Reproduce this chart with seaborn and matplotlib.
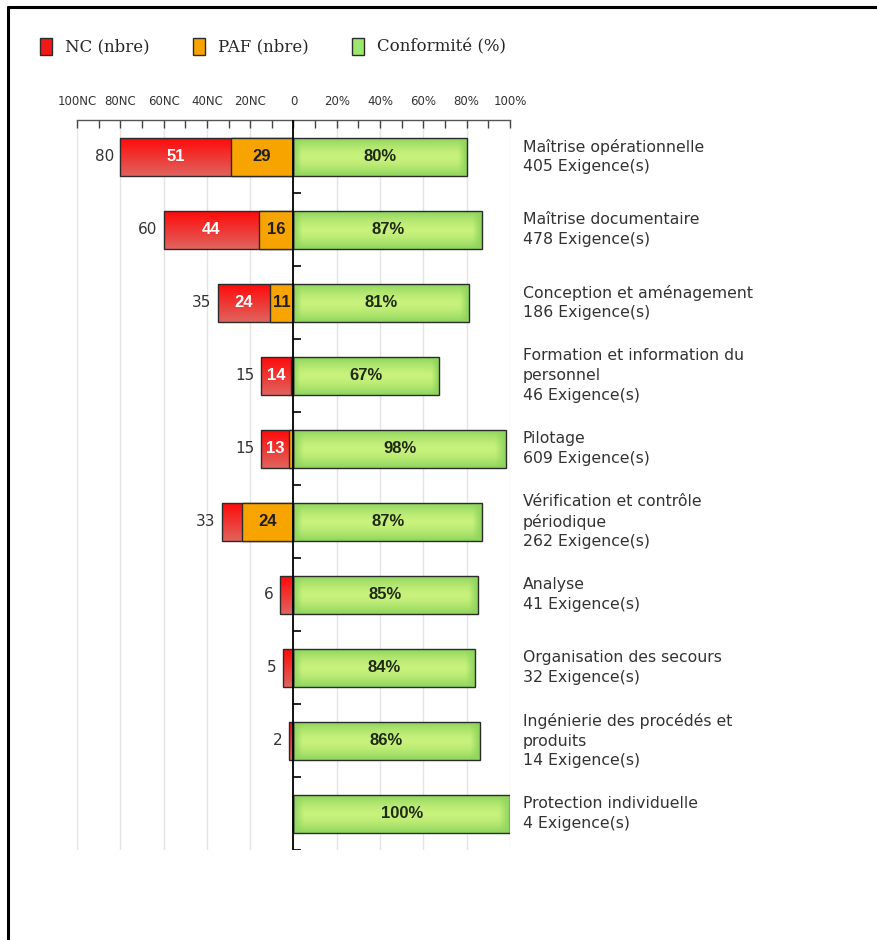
import numpy as np
import matplotlib
matplotlib.use('Agg')
import matplotlib.pyplot as plt
import seaborn as sns
from matplotlib.patches import Patch
from matplotlib.lines import Line2D
from matplotlib.colors import to_rgb

# data
categories = ['Maîtrise opérationnelle', 'Maîtrise documentaire', 'Conception et aménagement',
              'Formation et information du\npersonnel', 'Pilotage',
              'Vérification et contrôle\npériodique', 'Analyse', 'Organisation des secours',
              'Ingénierie des procédés et\nproduits', 'Protection individuelle']
exigences = [405, 478, 186, 46, 609, 262, 41, 32, 14, 4]
nc = [51, 44, 24, 14, 13, 9, 6, 5, 2, 0]
paf = [29, 16, 11, 1, 2, 24, 0, 0, 0, 0]
conformite = [80, 87, 81, 67, 98, 87, 85, 84, 86, 100]
tick_values = [-100, -80, -60, -40, -20, 0, 20, 40, 60, 80, 100]
tick_labels = ['100NC', '80NC', '60NC', '40NC', '20NC', '0', '20%', '40%', '60%', '80%', '100%']
legend_labels = ['NC (nbre)', 'PAF (nbre)', 'Conformité (%)']

RED = '#f01818'
ORANGE = '#f7a400'
GREEN = '#a8e46c'
EDGE = '#2b2b2b'
NARROW = ['Liberation Sans', 'DejaVu Sans']

sns.set_theme(style='white')
plt.rcParams['font.family'] = ['DejaVu Sans']

totals = [a + b for a, b in zip(nc, paf)]
neg_total = [-t for t in totals]
neg_paf = [-p for p in paf]


def red_img():
    t = np.linspace(0, 1, 60)[:, None, None]
    top = np.array(to_rgb('#ff0a0a'))
    bot = np.array(to_rgb('#e0645e'))
    return top * (1 - t) + bot * t


def green_img():
    v = np.linspace(0, 1, 60)[:, None]
    h = np.linspace(0, 1, 300)[None, :]
    fv = 1 - np.abs(2 * v - 1) ** 1.6
    fh = np.clip(np.minimum(h, 1 - h) / 0.05, 0, 1)
    f = (fv * fh)[:, :, None]
    edge = np.array(to_rgb('#8ed45c'))
    mid = np.array(to_rgb('#c8f27c'))
    return edge * (1 - f) + mid * f


def fill_gradient(ax, patches, img):
    for p in patches:
        w = p.get_width()
        if w == 0:
            continue
        x0, y0, h = p.get_x(), p.get_y(), p.get_height()
        im = ax.imshow(img, extent=[x0, x0 + w, y0 + h, y0], aspect='auto',
                       origin='upper', zorder=0.9, interpolation='bilinear')
        im.set_clip_path(p)
        p.set_facecolor('none')


fig = plt.figure(figsize=(8.77, 9.40), dpi=100)
ax = fig.add_axes([0.0878, 0.0957, 0.4937, 0.7766])

sns.barplot(x=neg_total, y=categories, orient='h', color=RED, width=0.52,
            edgecolor=EDGE, linewidth=1, saturation=1, ax=ax)
sns.barplot(x=neg_paf, y=categories, orient='h', color=ORANGE, width=0.52,
            edgecolor=EDGE, linewidth=1, saturation=1, ax=ax)
sns.barplot(x=conformite, y=categories, orient='h', color=GREEN, width=0.52,
            edgecolor=EDGE, linewidth=1, saturation=1, ax=ax)

fill_gradient(ax, ax.containers[0].patches, red_img())
fill_gradient(ax, ax.containers[2].patches, green_img())

for i in range(len(categories)):
    if nc[i] >= 10:
        ax.text(-paf[i] - nc[i] / 2, i, str(nc[i]), ha='center', va='center',
                color='white', fontsize=12, fontweight='bold', family=NARROW, zorder=4)
    if paf[i] >= 10:
        ax.text(-paf[i] / 2, i, str(paf[i]), ha='center', va='center',
                color='#1e1e1e', fontsize=12, fontweight='bold', family=NARROW, zorder=4)
    ax.text(conformite[i] / 2, i, f'{conformite[i]}%', ha='center', va='center',
            color='#1e2a14', fontsize=12, fontweight='bold', family=NARROW, zorder=4)
    if totals[i] > 0:
        ax.text(-totals[i] - 3, i, str(totals[i]), ha='right', va='center',
                color='#333333', fontsize=11, zorder=4)
    ax.text(106, i, f'{categories[i]}\n{exigences[i]} Exigence(s)', ha='left', va='center',
            color='#333333', fontsize=11.3, linespacing=1.38, clip_on=False)

# zero axis with category separators
ax.axvline(0, color='black', lw=1.3, zorder=3)
ax.hlines(np.arange(len(categories)) + 0.5, 0, 3.5, color='black', lw=1.2, zorder=3)

ax.set_xlim(-100, 100)
ax.set_ylim(len(categories) - 0.5, -0.5)
ax.set_xticks(tick_values)
ax.set_xticklabels(tick_labels)
ax.set_xticks(np.arange(-100, 101, 10), minor=True)
ax.xaxis.set_ticks_position('top')
ax.tick_params(axis='x', which='both', direction='in', length=6, width=1, color='#444444',
               labelsize=8.5, labelcolor='#333333', pad=9, top=True, bottom=False)
ax.tick_params(axis='y', left=False, labelleft=False)
ax.set_xlabel('')
ax.set_ylabel('')
ax.grid(axis='x', which='major', color='#e4e4e4', lw=1)
ax.set_axisbelow(True)
for side in ['left', 'right', 'bottom']:
    ax.spines[side].set_visible(False)
ax.spines['top'].set_color('#555555')
ax.spines['top'].set_linewidth(1)

handles = [Patch(facecolor=RED, edgecolor=EDGE), Patch(facecolor=ORANGE, edgecolor=EDGE),
           Patch(facecolor='#9be86e', edgecolor=EDGE)]
fig.legend(handles, legend_labels, loc='upper left', bbox_to_anchor=(0.028, 0.976), ncol=3,
           frameon=False, prop={'family': 'DejaVu Serif', 'size': 12},
           handlelength=0.75, handleheight=1.2, columnspacing=2.6, handletextpad=0.75)

# page frame
fig.add_artist(Line2D([0.0091, 0.0091], [0, 0.9926], transform=fig.transFigure, color='black', lw=2.2))
fig.add_artist(Line2D([0.0091, 1], [0.9926, 0.9926], transform=fig.transFigure, color='black', lw=2.2))

fig.savefig('out.png', dpi=100, facecolor='white')
